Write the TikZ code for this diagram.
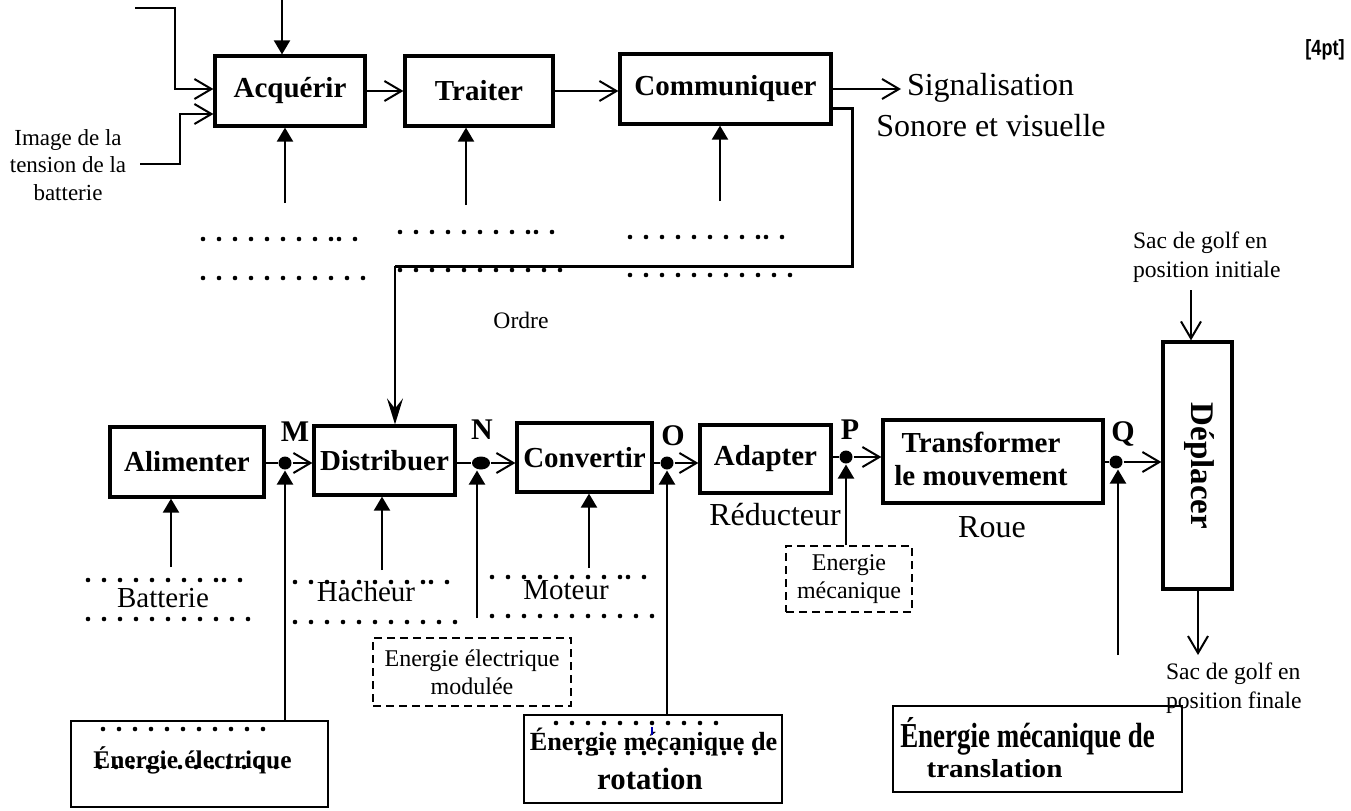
\documentclass[tikz,border=0pt]{standalone}
\usepackage{fontspec}
\usepackage{graphicx}
\setmainfont{Liberation Serif}
\newfontfamily\sansf{Liberation Sans}
\usetikzlibrary{arrows.meta,shapes.geometric}
\newcommand{\fs}[2]{\fontsize{#1}{#2}\selectfont}
\newcommand{\dotsA}[2]{\foreach \k in {0,16,32,48,64,80,96,112,128,136,152}{\fill ({#1+\k},{#2}) circle[radius=1.15pt];}}
\newcommand{\dotsB}[3]{\foreach \k in {1,...,#3}{\fill ({#1+16*(\k-1)},{#2}) circle[radius=1.15pt];}}
\begin{document}
\begin{tikzpicture}[x=0.5pt,y=-0.5pt,line width=1pt,
  fbox/.style={draw,line width=1.6pt,inner sep=0pt,font=\bfseries\fs{14.5}{17}},
  ebox/.style={draw,line width=0.6pt,inner sep=0pt},
  dbox/.style={draw,line width=0.6pt,dash pattern=on 4pt off 2.5pt,inner sep=0pt,align=center,font=\fs{12}{14}},
  oarr/.style={-{Straight Barb[length=8.5pt,width=10pt]}},
  farr/.style={-{Triangle[length=7pt,width=8pt]}},
  sarr/.style={-{Stealth[length=13pt,width=8pt,inset=5pt]}},
  jdot/.style={circle,fill,inner sep=0pt,minimum size=6.5pt},
  lab/.style={font=\bfseries\fs{15}{17},inner sep=0pt},
  txt/.style={inner sep=0pt},
]
\useasboundingbox (0,0) rectangle (1351,810);

% ---------- top row ----------
\node[fbox,minimum width=75pt,minimum height=35pt] (acq) at (290,91) {Acquérir};
\node[fbox,minimum width=74pt,minimum height=35pt] (tra) at (479,91) {Traiter};
\node[fbox,minimum width=105.5pt,minimum height=35pt] (com) at (725.5,89) {Communiquer};

\coordinate (i1) at (135,8);
\coordinate (i1c) at (175,89);
\draw[oarr] (i1) -| (i1c) -- (i1c -| acq.west);
\coordinate (i2) at (140,164);
\coordinate (i2c) at (180,114);
\draw[oarr] (i2) -| (i2c) -- (i2c -| acq.west);
\node[txt,align=center,font=\fs{11.5}{13.75}] (img) at (68,165) {Image de la\\tension de la\\batterie};

\coordinate (t1) at (282,0);
\draw[farr] (t1) -- (t1 |- acq.north);

\draw[oarr] (acq.east) -- (acq.east -| tra.west);
\draw[oarr] (tra.east) -- (tra.east -| com.west);
\coordinate (sg) at (901,89);
\draw[oarr] (com.east) -- (sg);
\node[txt,anchor=west,font=\fs{16}{18}] (sig) at (906,88) {Signalisation};
\node[txt,font=\fs{16}{18}] (son) at (991,126) {Sonore et visuelle};

\coordinate (u1) at (285,203);
\draw[farr] (u1) -- (u1 |- acq.south);
\coordinate (u2) at (466,205);
\draw[farr] (u2) -- (u2 |- tra.south);
\coordinate (u3) at (720,201);
\draw[farr] (u3) -- (u3 |- com.south);

\dotsA{203}{239}
\dotsB{203}{278}{11}
\dotsA{400}{232}
\dotsB{400}{270}{11}
\dotsA{630}{237}
\dotsB{630}{275}{11}

% ---------- order line ----------
\coordinate (o1) at (852,108);
\coordinate (o2) at (852,266);
\coordinate (o3) at (395,266);
\draw[line width=1.5pt] (o1 -| com.east) -- (o1) -- (o2) -- (o3);
\node[txt,font=\fs{11.8}{14}] (ord) at (521,320) {Ordre};

% ---------- bottom row ----------
\node[fbox,minimum width=77pt,minimum height=35pt] (ali) at (187,462) {Alimenter};
\node[fbox,minimum width=70.5pt,minimum height=34.5pt] (dis) at (384.5,460.5) {Distribuer};
\node[fbox,minimum width=67.5pt,minimum height=34.5pt] (con) at (584.5,457.5) {Convertir};
\node[fbox,minimum width=65.5pt,minimum height=34pt] (ada) at (765.5,459) {Adapter};
\node[fbox,minimum width=110pt,minimum height=41.5pt] (tr2) at (993,461.5) {};
\node[txt,align=center,font=\bfseries\fs{14.5}{16.5}] (tr2t) at (981,459) {Transformer\\le mouvement};
\node[fbox,minimum width=34.5pt,minimum height=123.5pt] (dep) at (1197.5,465.5) {};
\node[txt,rotate=-90,font=\bfseries\fs{16.5}{19}] (dept) at (1199,466) {Déplacer};

\draw[sarr] (o3) -- (o3 |- dis.north);

\node[jdot] (M) at (285,463) {};
\node[jdot,ellipse,minimum width=9pt,minimum height=6.5pt] (N) at (481,463) {};
\node[jdot] (O) at (667,463) {};
\node[jdot] (P) at (846,457) {};
\node[jdot] (Q) at (1116,462) {};
\node[lab] (Ml) at (295,432) {M};
\node[lab] (Nl) at (482,430) {N};
\node[lab] (Ol) at (673,436) {O};
\node[lab] (Pl) at (850,430) {P};
\node[lab] (Ql) at (1123,434) {Q};

\draw (ali.east |- M) -- (M);
\draw[oarr] (M) -- (M -| dis.west);
\draw (dis.east |- N) -- (N);
\draw[oarr] (N) -- (N -| con.west);
\draw (con.east |- O) -- (O);
\draw[oarr] (O) -- (O -| ada.west);
\draw (ada.east |- P) -- (P);
\draw[oarr] (P) -- (P -| tr2.west);
\draw (tr2.east |- Q) -- (Q);
\draw[oarr] (Q) -- (Q -| dep.west);

% Déplacer inputs / outputs
\coordinate (si) at (1191,290);
\draw[oarr] (si) -- (si |- dep.north);
\node[txt,anchor=west,align=left,font=\fs{11.8}{14.5}] (sit) at (1132,257.5) {Sac de golf en\\position initiale};
\coordinate (sf) at (1198,655);
\draw[oarr] (sf |- dep.south) -- (sf);
\node[txt,anchor=west,align=left,font=\fs{11.8}{14.5}] (sft) at (1165,688) {Sac de golf en\\position finale};

% labels under boxes
\node[txt,font=\fs{14.5}{17}] (bat) at (163,598) {Batterie};
\node[txt,font=\fs{14.5}{17}] (hac) at (366,592) {Hacheur};
\node[txt,font=\fs{14.5}{17}] (mot) at (566,590) {Moteur};
\node[txt,font=\fs{16}{18}] (red) at (775,515) {Réducteur};
\node[txt,font=\fs{16}{18}] (rou) at (992,527) {Roue};

\dotsA{88}{580}
\dotsB{88}{619}{11}
\dotsA{295}{582}
\dotsB{295}{622}{11}
\dotsA{492}{577}
\dotsB{492}{616}{11}

\coordinate (b1) at (171,567);
\draw[farr] (b1) -- (b1 |- ali.south);
\coordinate (b2) at (382,570);
\draw[farr] (b2) -- (b2 |- dis.south);
\coordinate (b3) at (589,568);
\draw[farr] (b3) -- (b3 |- con.south);

% dashed boxes
\node[dbox,minimum width=99pt,minimum height=34pt] (emod) at (472,672) {Energie électrique\\modulée};
\node[dbox,minimum width=63pt,minimum height=33pt] (emec) at (849,579) {Energie\\mécanique};

% energy boxes
\node[ebox,minimum width=128.5pt,minimum height=43pt] (ee) at (199.5,764) {};
\node[txt,font=\bfseries\fs{12.7}{15}] (eet) at (192.5,760) {Énergie électrique};
\dotsB{103}{729}{11}
\dotsB{100}{767}{12}

\node[ebox,minimum width=129pt,minimum height=44pt] (rot) at (653,759) {};
\node[txt,font=\bfseries\fs{13.1}{15}] (rott1) at (653.5,742) {Énergie mécanique de};
\node[txt,font=\bfseries\fs{15.4}{18}] (rott2) at (650,779) {rotation};
\dotsB{556}{723}{11}
\dotsB{580}{753}{12}
\draw[blue!70!black,line width=0.6pt] (652,727) -- (652,735);

\node[ebox,minimum width=144.5pt,minimum height=43pt] (trn) at (1037.5,749) {};
\node[txt,font=\bfseries\fs{17.5}{20}] (trnt1) at (1027.5,736) {\scalebox{0.77}[1]{Énergie mécanique de}};
\node[txt,font=\bfseries\fs{13}{15}] (trnt2) at (994.5,769) {\scalebox{1.12}[1]{translation}};

% vertical energy arrows
\draw[farr] (M |- ee.north) -- (M.south);
\coordinate (nb) at (477,618);
\draw[farr] (nb) -- (nb |- N.south);
\draw[farr] (rot.north -| O) -- (O.south);
\draw[farr] (emec.north -| P) -- (P.south);
\coordinate (qb) at (1118,655);
\draw[farr] (qb) -- (qb |- Q.south);

% corner mark
\node[txt,font=\sansf\bfseries\fs{11}{13}] (mk) at (1325,50) {\scalebox{0.82}[1]{[4pt]}};
\end{tikzpicture}
\end{document}
